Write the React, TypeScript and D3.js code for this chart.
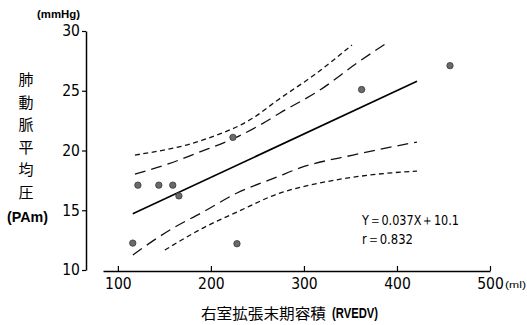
import React, { useEffect, useRef } from 'react';
import * as d3 from 'd3';

// observed data: right ventricular end-diastolic volume (ml) vs mean PA pressure (mmHg)
const volume = [116, 121.5, 144, 159, 165.6, 228, 223.7, 362, 457];
const pressure = [12.25, 17.1, 17.1, 17.1, 16.2, 12.2, 21.1, 25.1, 27.1];

// regression line end points
const fitX = [116, 421.5];
const fitY = [14.7, 25.8];

// confidence bands
const innerUpX = [118.3, 155, 185, 225.8, 252.7, 274.2, 317.2, 357, 389.2];
const innerUpY = [18.03, 18.9, 19.79, 21.05, 22.13, 23.14, 25.06, 27.32, 29.0];
const innerLoX = [116.1, 155.9, 191.4, 228, 271, 295.7, 352.7, 421.5];
const innerLoY = [11.26, 13.35, 14.85, 16.44, 17.78, 18.54, 19.62, 20.71];
const outerUpX = [118.3, 191.4, 245.2, 272, 314, 351.6];
const outerUpY = [19.62, 20.88, 22.72, 24.23, 26.49, 28.83];
const outerLoX = [150.5, 191.4, 228, 274.2, 317.2, 371, 421.5];
const outerLoY = [11.67, 13.51, 14.85, 16.44, 17.28, 17.95, 18.28];

const xTicks = [100, 200, 300, 400, 500];
const yTicks = [10, 15, 20, 25, 30];
const yLabelChars = ['肺', '動', '脈', '平', '均', '圧'];

const NARROW = '"Liberation Sans Narrow", "DejaVu Sans Condensed", "Liberation Sans", sans-serif';
const SANS = '"Liberation Sans", Arial, sans-serif';
const CJK = '"Noto Sans CJK JP", "Noto Sans", sans-serif';

const App = () => {
    const svgRef = useRef(null);

    useEffect(() => {
        const svg = d3.select(svgRef.current);
        svg.selectAll('*').remove();

        const x = d3.scaleLinear().domain([84, 500]).range([103, 490]);
        const y = d3.scaleLinear().domain([10, 30]).range([270, 31]);

        // y axis
        const gy = svg.append('g')
            .attr('transform', 'translate(86,0)')
            .call(d3.axisLeft(y).tickValues(yTicks).tickSize(4).tickSizeOuter(0).tickPadding(2));
        gy.attr('font-size', null).attr('font-family', null);
        gy.select('.domain').attr('stroke-width', 1.5);
        gy.selectAll('.tick line').attr('stroke-width', 1.2);
        gy.selectAll('.tick text')
            .attr('font-family', NARROW)
            .attr('font-size', 15.5)
            .attr('fill', '#000');

        // x axis
        const gx = svg.append('g')
            .attr('transform', 'translate(0,271)')
            .call(d3.axisBottom(x).tickValues(xTicks).tickSize(-5).tickSizeOuter(0).tickPadding(7));
        gx.attr('font-size', null).attr('font-family', null);
        gx.select('.domain').attr('stroke-width', 1.5);
        gx.selectAll('.tick line').attr('stroke-width', 1.2);
        gx.selectAll('.tick text')
            .attr('font-family', NARROW)
            .attr('font-size', 15.5)
            .attr('fill', '#000');

        const line = d3.line().x(d => x(d[0])).y(d => y(d[1])).curve(d3.curveMonotoneX);
        const zip = (xs, ys) => xs.map((v, i) => [v, ys[i]]);

        const bands = [
            { xs: innerUpX, ys: innerUpY, dash: '11,6' },
            { xs: innerLoX, ys: innerLoY, dash: '11,6' },
            { xs: outerUpX, ys: outerUpY, dash: '5,3.5' },
            { xs: outerLoX, ys: outerLoY, dash: '5,3.5' },
        ];
        bands.forEach(b => {
            svg.append('path')
                .datum(zip(b.xs, b.ys))
                .attr('fill', 'none')
                .attr('stroke', '#111')
                .attr('stroke-width', 1.3)
                .attr('stroke-dasharray', b.dash)
                .attr('d', line);
        });

        svg.append('path')
            .datum(zip(fitX, fitY))
            .attr('fill', 'none')
            .attr('stroke', '#000')
            .attr('stroke-width', 1.6)
            .attr('d', d3.line().x(d => x(d[0])).y(d => y(d[1])));

        svg.selectAll('.point')
            .data(zip(volume, pressure))
            .enter()
            .append('circle')
            .attr('class', 'point')
            .attr('cx', d => x(d[0]))
            .attr('cy', d => y(d[1]))
            .attr('r', 3.2)
            .attr('fill', '#6a6a6a')
            .attr('stroke', '#3a3a3a')
            .attr('stroke-width', 0.8);

        // units
        svg.append('text')
            .attr('x', 37).attr('y', 18)
            .attr('font-family', SANS)
            .attr('font-size', 10.5)
            .attr('font-weight', 'bold')
            .attr('textLength', 43)
            .attr('lengthAdjust', 'spacingAndGlyphs')
            .text('(mmHg)');
        svg.append('text')
            .attr('x', 505).attr('y', 288)
            .attr('font-family', SANS)
            .attr('font-size', 9.5)
            .attr('textLength', 21)
            .attr('lengthAdjust', 'spacingAndGlyphs')
            .text('(ml)');

        // y title (vertical)
        yLabelChars.forEach((c, i) => {
            svg.append('text')
                .attr('x', 26).attr('y', 85 + i * 22.6)
                .attr('text-anchor', 'middle')
                .attr('font-family', CJK)
                .attr('font-size', 15)
                .text(c);
        });
        svg.append('text')
            .attr('x', 7).attr('y', 222)
            .attr('font-family', SANS)
            .attr('font-size', 14)
            .attr('font-weight', 'bold')
            .attr('textLength', 41)
            .attr('lengthAdjust', 'spacingAndGlyphs')
            .text('(PAm)');

        // x title
        svg.append('text')
            .attr('x', 201).attr('y', 319)
            .attr('font-family', CJK)
            .attr('font-size', 15)
            .attr('textLength', 125)
            .attr('lengthAdjust', 'spacingAndGlyphs')
            .text('右室拡張末期容積');
        svg.append('text')
            .attr('x', 332).attr('y', 318)
            .attr('font-family', SANS)
            .attr('font-size', 14)
            .attr('font-weight', 'bold')
            .attr('textLength', 46)
            .attr('lengthAdjust', 'spacingAndGlyphs')
            .text('(RVEDV)');

        // regression annotation
        svg.append('text')
            .attr('x', 362).attr('y', 225)
            .attr('font-family', NARROW)
            .attr('font-size', 14)
            .attr('textLength', 97)
            .attr('lengthAdjust', 'spacingAndGlyphs')
            .text('Y＝0.037X＋10.1');
        svg.append('text')
            .attr('x', 362).attr('y', 244)
            .attr('font-family', NARROW)
            .attr('font-size', 14)
            .attr('textLength', 51)
            .attr('lengthAdjust', 'spacingAndGlyphs')
            .text('r＝0.832');
    }, []);

    return (
        <svg
            ref={svgRef}
            width={527}
            height={325}
            style={{ position: 'absolute', left: 0, top: 0, background: '#fff' }}
        />
    );
};

export default App;
